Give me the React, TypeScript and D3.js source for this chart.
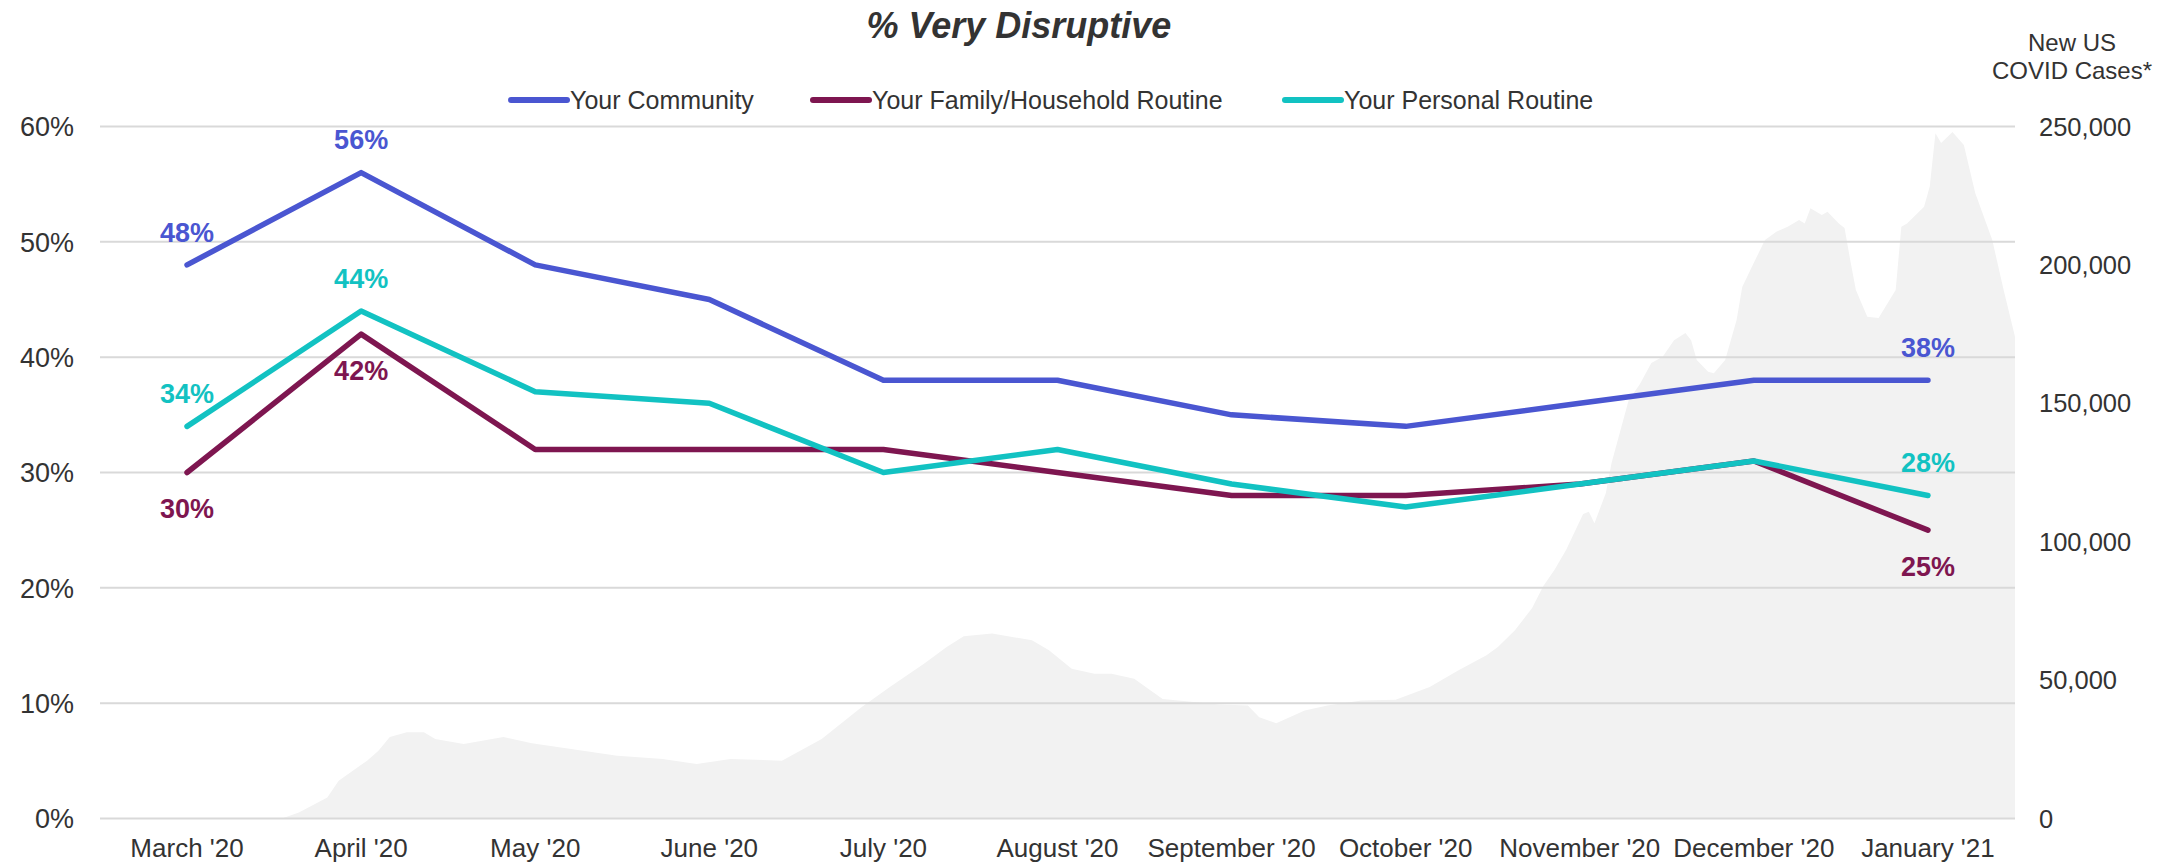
import React from "react";
import * as d3 from "d3";

const months = ["March '20", "April '20", "May '20", "June '20", "July '20", "August '20", "September '20", "October '20", "November '20", "December '20", "January '21"];
const community = [48, 56, 48, 45, 38, 38, 35, 34, 36, 38, 38];
const family = [30, 42, 32, 32, 32, 30, 28, 28, 29, 31, 25];
const personal = [34, 44, 37, 36, 30, 32, 29, 27, 29, 31, 28];

const leftTicks = [0, 10, 20, 30, 40, 50, 60];
const rightTicks = [0, 50000, 100000, 150000, 200000, 250000];

// days since 1 March 2020 and new US COVID cases
const caseDay = [0, 32, 35, 40, 42, 47, 49, 51, 54, 57, 59, 64, 71, 76, 85, 91, 99, 105, 111, 120, 127, 134, 139, 145, 149, 152, 157, 164, 167, 171, 175, 178, 182, 187, 197, 202, 204, 207, 212, 216, 222, 228, 234, 239, 244, 246, 249, 252, 254, 256, 258, 261, 262, 263, 265, 266, 269, 271, 273, 275, 277, 279, 280, 281, 283, 284, 286, 288, 289, 291, 293, 295, 297, 299, 300, 301, 303, 304, 306, 307, 308, 309, 311, 313, 316, 317, 318, 321, 322, 323, 324, 326, 328, 330, 333, 335, 337];
const caseCount = [0, 0, 2200, 7600, 13600, 20900, 24500, 29400, 31200, 31200, 28700, 26900, 29400, 27200, 24500, 22700, 21500, 19700, 21500, 20900, 28700, 40200, 47500, 55900, 62000, 65800, 66800, 64400, 60800, 54100, 52300, 52300, 50500, 43200, 41200, 40800, 36600, 34400, 39000, 40800, 42600, 42900, 47500, 53500, 59000, 62000, 68000, 76000, 84000, 90000, 97000, 110000, 110800, 106700, 117600, 128400, 151000, 157000, 164600, 166800, 172800, 175400, 172800, 165600, 161400, 160900, 165600, 180000, 192000, 200600, 209000, 212000, 213800, 216200, 215000, 220500, 218000, 219200, 215000, 213300, 201800, 190900, 181300, 180800, 190900, 213800, 215000, 221000, 228300, 247600, 244000, 248000, 243300, 226000, 209000, 190900, 174000];

const W = 2179, H = 863;
const L = 100, R = 2015, T = 126.5, B = 818.5;
const font = "'Liberation Sans', Arial, sans-serif";
const C_BLUE = "#4A56D1", C_MAROON = "#7E1650", C_TEAL = "#12C2C2";

export default function App() {
  const x = d3.scaleBand<string>().domain(months).range([L, R]).padding(0);
  const cx = (m: string) => (x(m) as number) + x.bandwidth() / 2;
  const y = d3.scaleLinear().domain([0, 60]).range([B, T]);
  const y2 = d3.scaleLinear().domain([0, 250000]).range([B, T]);
  const xd = d3.scaleLinear().domain([0, 337]).range([L, R]);

  const area = d3.area<number>()
    .x((_, i) => xd(caseDay[i]))
    .y0(B)
    .y1((d) => y2(d))
    .curve(d3.curveLinear);

  const line = d3.line<number>()
    .x((_, i) => cx(months[i]))
    .y((d) => y(d));

  const series = [
    { name: "Your Community", vals: community, color: C_BLUE },
    { name: "Your Family/Household Routine", vals: family, color: C_MAROON },
    { name: "Your Personal Routine", vals: personal, color: C_TEAL },
  ];

  const legendX = [511, 813, 1285];
  const labelIdx = [0, 1, 10];

  return (
    <svg width={W} height={H} style={{ position: "absolute", left: 0, top: 0, background: "#fff" }} fontFamily={font}>
      <path d={area(caseCount) || ""} fill="#F2F2F2" />
      {leftTicks.map((t) => (
        <line key={t} x1={L} x2={R} y1={y(t)} y2={y(t)} stroke="#D9D9D9" strokeWidth={2} />
      ))}
      {leftTicks.map((t) => (
        <text key={"l" + t} x={74} y={y(t)} dy="0.36em" textAnchor="end" fontSize={27} fill="#333">{t + "%"}</text>
      ))}
      {rightTicks.map((t) => (
        <text key={"r" + t} x={2039} y={y2(t)} dy="0.36em" textAnchor="start" fontSize={25.5} fill="#333">{d3.format(",")(t)}</text>
      ))}
      <text x={2072} y={42} dy="0.36em" textAnchor="middle" fontSize={24} fill="#333">New US</text>
      <text x={2072} y={70} dy="0.36em" textAnchor="middle" fontSize={24} fill="#333">COVID Cases*</text>
      {months.map((m) => (
        <text key={m} x={cx(m)} y={848} dy="0.36em" textAnchor="middle" fontSize={26} fill="#333">{m}</text>
      ))}
      {series.map((s) => (
        <path key={s.name} d={line(s.vals) || ""} fill="none" stroke={s.color} strokeWidth={5.5} strokeLinejoin="round" strokeLinecap="round" />
      ))}
      {series.map((s, si) =>
        labelIdx.map((i) => (
          <text key={s.name + i} x={cx(months[i])} y={y(s.vals[i]) + (si === 1 ? 36 : -33)} dy="0.36em" textAnchor="middle" fontSize={27} fontWeight="bold" fill={s.color}>{s.vals[i] + "%"}</text>
        ))
      )}
      <text x={1019} y={25} dy="0.36em" textAnchor="middle" fontSize={36} fontWeight="bold" fontStyle="italic" fill="#333">% Very Disruptive</text>
      {series.map((s, i) => (
        <g key={"lg" + i}>
          <line x1={legendX[i]} x2={legendX[i] + 56} y1={100} y2={100} stroke={s.color} strokeWidth={6} strokeLinecap="round" />
          <text x={legendX[i] + 59} y={100} dy="0.36em" fontSize={25} fill="#333">{s.name}</text>
        </g>
      ))}
    </svg>
  );
}
